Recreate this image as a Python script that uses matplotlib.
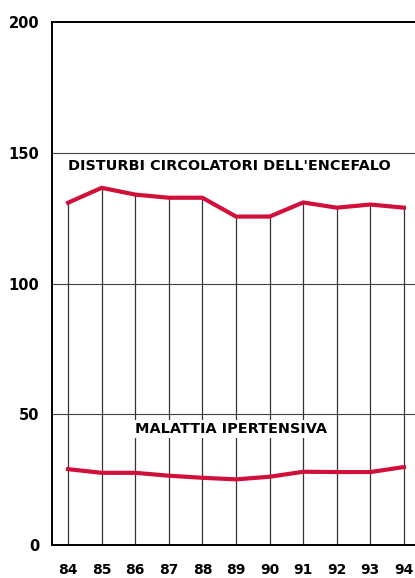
import matplotlib
matplotlib.use("Agg")
import matplotlib.pyplot as plt

years = [84, 85, 86, 87, 88, 89, 90, 91, 92, 93, 94]
year_labels = ["84", "85", "86", "87", "88", "89", "90", "91", "92", "93", "94"]
encefalo = [130.9, 136.6, 134.0, 132.8, 132.8, 125.6, 125.6, 131.0, 129.0, 130.2, 129.0]
ipertensiva = [29.0, 27.6, 27.6, 26.5, 25.7, 25.1, 26.1, 28.0, 27.9, 27.9, 29.8]
y_ticks = [0, 50, 100, 150, 200]

plt.rcParams["font.family"] = ["DejaVu Sans"]

fig = plt.figure(figsize=(4.15, 5.78), dpi=100)
ax = fig.add_axes([0.1253, 0.0571, 0.8747, 0.9048])

red = "#d0103a"

# vertical lines from 0 up to the upper series
ax.vlines(years, 0, encefalo, color="#333333", linewidth=0.9, zorder=1)

# horizontal grid
for y in [50, 100, 150]:
    ax.axhline(y, color="#444444", linewidth=0.8, zorder=1)

ax.plot(years, encefalo, color=red, linewidth=3, solid_joinstyle="round", zorder=3)
ax.plot(years, ipertensiva, color=red, linewidth=3, solid_joinstyle="round", zorder=3)

ax.text(84, 145, "DISTURBI CIRCOLATORI DELL'ENCEFALO", fontsize=10.4, fontweight="bold",
        ha="left", va="center", zorder=4)
ax.text(88.85, 44.5, "MALATTIA IPERTENSIVA", fontsize=10.4, fontweight="bold",
        ha="center", va="center", zorder=4,
        bbox=dict(facecolor="white", edgecolor="none", pad=1.5))

ax.set_xlim(83.52, 94.33)
ax.set_ylim(0, 200)
ax.set_yticks(y_ticks)
ax.set_yticklabels([str(v) for v in y_ticks], fontsize=10.5, fontweight="bold")
ax.set_xticks(years)
ax.set_xticklabels(year_labels, fontsize=10, fontweight="bold")
ax.tick_params(axis="x", length=0, pad=13)
ax.tick_params(axis="y", length=0, pad=9)

for s in ["left", "bottom", "top"]:
    ax.spines[s].set_linewidth(1.4)
    ax.spines[s].set_color("black")
ax.spines["right"].set_visible(False)

fig.savefig("out.png", dpi=100)
